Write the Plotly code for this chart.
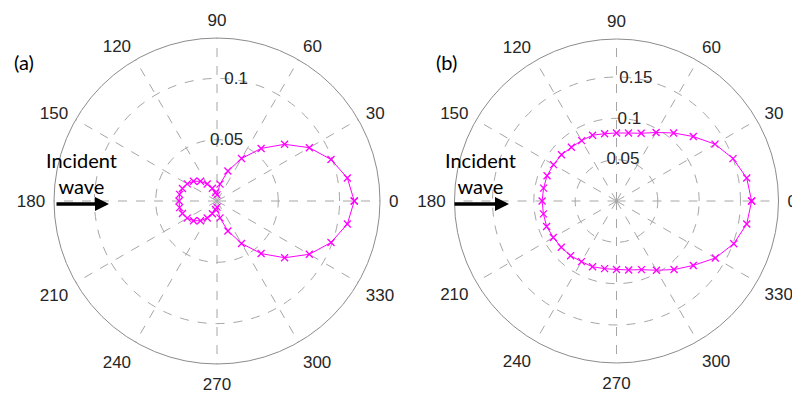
import plotly.graph_objects as go

# ---- data ----
theta_deg = list(range(0, 361, 10))

r_a = [0.112, 0.108, 0.099, 0.087, 0.072, 0.056, 0.040, 0.026, 0.014, 0.005,
       0.007, 0.011, 0.016, 0.021, 0.025, 0.028, 0.030, 0.031, 0.031, 0.031,
       0.030, 0.028, 0.025, 0.021, 0.016, 0.011, 0.007, 0.005, 0.014, 0.026,
       0.040, 0.056, 0.072, 0.087, 0.099, 0.108, 0.112]

r_b = [0.1635, 0.160, 0.150, 0.1376, 0.1213, 0.1075, 0.0957, 0.0872, 0.0835, 0.0823,
       0.0827, 0.0847, 0.0844, 0.0849, 0.0869, 0.0880, 0.0894, 0.0896, 0.0900, 0.0898,
       0.0900, 0.0883, 0.0872, 0.0864, 0.0847, 0.0847, 0.0831, 0.0828, 0.0847, 0.0884,
       0.0967, 0.1083, 0.1213, 0.1380, 0.1510, 0.1600, 0.1635]

ang_ticks = list(range(0, 360, 30))
ang_labels = [str(a) for a in ang_ticks]
rticks_a = [0.05, 0.1]
rlabels_a = ["0.05", "0.1"]
rticks_b = [0.05, 0.1, 0.15]
rlabels_b = ["0.05", "0.1", "0.15"]
rmax_a = 0.133
rmax_b = 0.196

MAG = "#FF00FF"
GRID = "#a6a6a6"
TXT = "#262626"
FONT = "Liberation Sans, Arial, sans-serif"

fig = go.Figure()

for sub, r, rt, rl in [("polar", r_a, rticks_a, rlabels_a), ("polar2", r_b, rticks_b, rlabels_b)]:
    fig.add_trace(go.Scatterpolar(
        r=r, theta=theta_deg, mode="lines+markers", subplot=sub,
        line=dict(color=MAG, width=1),
        marker=dict(symbol="x-thin", size=7, line=dict(color=MAG, width=1.3)),
        showlegend=False, hoverinfo="skip"))
    fig.add_trace(go.Scatterpolar(
        r=rt, theta=[81] * len(rt), mode="text", text=rl, subplot=sub,
        textfont=dict(family=FONT, size=17, color=TXT),
        textposition="middle center", showlegend=False, hoverinfo="skip"))

def polar_layout(dom_x, dom_y, rmax, rt):
    return dict(
        domain=dict(x=dom_x, y=dom_y),
        bgcolor="white",
        angularaxis=dict(
            direction="counterclockwise", rotation=0,
            tickmode="array", tickvals=ang_ticks, ticktext=ang_labels,
            ticks="outside", ticklen=5, tickcolor="rgba(0,0,0,0)",
            showline=True, linecolor="#8c8c8c", linewidth=1,
            showgrid=True, gridcolor=GRID, griddash="dash", gridwidth=1,
            tickfont=dict(family=FONT, size=17, color=TXT)),
        radialaxis=dict(
            range=[0, rmax], tickmode="array", tickvals=rt,
            showticklabels=False, ticks="", showline=False,
            showgrid=True, gridcolor=GRID, griddash="dash", gridwidth=1),
    )

W, H = 792, 394
cxa, cya, ra = 217, 201, 163
cxb, cyb, rb = 616.5, 201, 162
fig.update_layout(
    width=W, height=H,
    margin=dict(l=0, r=0, t=0, b=0),
    paper_bgcolor="white",
    polar=polar_layout([(cxa - ra) / W, (cxa + ra) / W],
                       [(H - cya - ra) / H, (H - cya + ra) / H], rmax_a, rticks_a),
    polar2=polar_layout([(cxb - rb) / W, (cxb + rb) / W],
                        [(H - cyb - rb) / H, (H - cyb + rb) / H], rmax_b, rticks_b),
)

LBL = "Lato, Carlito, sans-serif"
annos = []
for lab, lx, tx, ax0, ax1 in [("(a)", 23.5, 81.5, 55, 109), ("(b)", 446.5, 480.5, 453, 509)]:
    annos.append(dict(text=lab, x=lx / W, y=(H - 62) / H, xref="paper", yref="paper",
                      showarrow=False, font=dict(family=LBL, size=20, color="black"),
                      xanchor="center", yanchor="middle"))
    annos.append(dict(text="Incident<br>wave", x=tx / W, y=(H - 173.5) / H,
                      xref="paper", yref="paper", showarrow=False,
                      font=dict(family=LBL, size=20, color="black"),
                      xanchor="center", yanchor="middle", align="center"))
    annos.append(dict(text="", x=ax1 / W, y=(H - 204) / H, xref="paper", yref="paper",
                      showarrow=True, ax=-(ax1 - ax0), ay=0, arrowhead=2,
                      arrowsize=0.8, arrowwidth=3.5, arrowcolor="black", standoff=0))
fig.update_layout(annotations=annos)

fig.write_html("out.html", config={"displayModeBar": False},
               post_script="document.body.style.margin='0';")
